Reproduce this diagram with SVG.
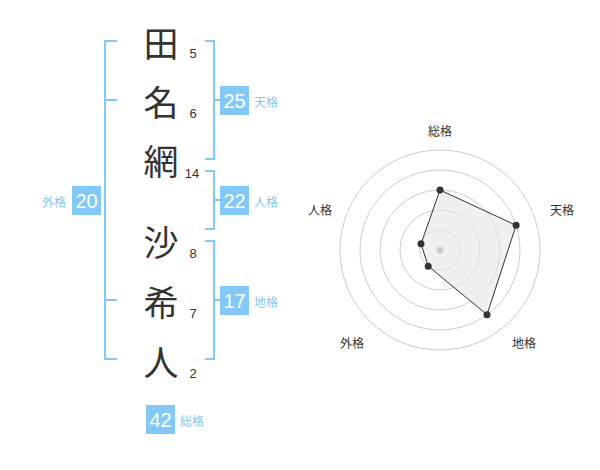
<svg xmlns="http://www.w3.org/2000/svg" width="600" height="470" viewBox="0 0 600 470">
<style>
.ch{font-family:"Noto Sans CJK JP","Noto Sans CJK SC",sans-serif;font-size:35px;fill:#333;text-anchor:middle;dominant-baseline:central}
.num{font-family:"Liberation Sans",Arial,sans-serif;font-size:13px;fill:#333;text-anchor:middle;dominant-baseline:central}
.br{fill:none;stroke:#82c9f8;stroke-width:2}
.box{fill:#82c9f8}
.bn{font-family:"Liberation Sans",Arial,sans-serif;font-size:20px;fill:#fff;text-anchor:middle;dominant-baseline:central}
.bl{font-family:"Noto Sans CJK JP",sans-serif;font-size:12px;fill:#82c9f8;dominant-baseline:central}
.ring{fill:none;stroke:#ccc;stroke-width:1}
.rl{font-family:"Noto Sans CJK JP",sans-serif;font-size:12px;fill:#333;text-anchor:middle;dominant-baseline:central}
.pt{fill:#333}
</style>
<rect width="600" height="470" fill="#fff"/>
<g id="name">
<text class="ch" x="161" y="41">田</text>
<text class="ch" x="161" y="100">名</text>
<text class="ch" x="161" y="159">網</text>
<text class="ch" x="161" y="240">沙</text>
<text class="ch" x="161" y="300">希</text>
<text class="ch" x="161" y="360">人</text>
<text class="num" x="193" y="53">5</text>
<text class="num" x="193" y="113">6</text>
<text class="num" x="192" y="173">14</text>
<text class="num" x="193" y="253">8</text>
<text class="num" x="193" y="313">7</text>
<text class="num" x="193" y="373">2</text>
</g>
<g id="connectors">
<path class="br" d="M117,41 H105 V359 H117 M105,100 H117 M105,300 H117"/>
<path class="br" d="M205,41 H214 V159 H205 M214,100 H220"/>
<path class="br" d="M205,171 H214 V229 H205 M214,200 H220"/>
<path class="br" d="M205,241 H214 V359 H205 M214,300 H220"/>
</g>
<g id="tenkaku">
<rect class="box" x="220" y="86" width="29" height="29"/>
<text class="bn" x="234.5" y="101">25</text>
<text class="bl" x="254" y="101">天格</text>
</g>
<g id="jinkaku">
<rect class="box" x="220" y="186" width="29" height="29"/>
<text class="bn" x="234.5" y="201">22</text>
<text class="bl" x="254" y="201">人格</text>
</g>
<g id="chikaku">
<rect class="box" x="220" y="286" width="29" height="29"/>
<text class="bn" x="234.5" y="301">17</text>
<text class="bl" x="254" y="301">地格</text>
</g>
<g id="gaikaku">
<rect class="box" x="72" y="186" width="29" height="29"/>
<text class="bn" x="86.5" y="201">20</text>
<text class="bl" x="66" y="201" text-anchor="end">外格</text>
</g>
<g id="soukaku">
<rect class="box" x="146" y="405" width="29" height="29"/>
<text class="bn" x="160.5" y="420">42</text>
<text class="bl" x="180" y="420">総格</text>
</g>
<g id="radar">
<circle class="ring" cx="440" cy="250" r="20"/>
<circle class="ring" cx="440" cy="250" r="40"/>
<circle class="ring" cx="440" cy="250" r="60"/>
<circle class="ring" cx="440" cy="250" r="80"/>
<circle class="ring" cx="440" cy="250" r="100"/>
<polygon points="440,190 516.1,225.3 487.0,314.7 428.2,266.2 421.0,243.8" fill="#e6e6e6" fill-opacity="0.6" stroke="#333" stroke-width="1"/>
<circle cx="440" cy="250" r="3.5" fill="#ccc"/>
<circle class="pt" cx="440" cy="190" r="3.5"/>
<circle class="pt" cx="516.1" cy="225.3" r="3.5"/>
<circle class="pt" cx="487.0" cy="314.7" r="3.5"/>
<circle class="pt" cx="428.2" cy="266.2" r="3.5"/>
<circle class="pt" cx="421.0" cy="243.8" r="3.5"/>
<text class="rl" x="440" y="130">総格</text>
<text class="rl" x="562" y="209">天格</text>
<text class="rl" x="524" y="342">地格</text>
<text class="rl" x="352" y="342">外格</text>
<text class="rl" x="320" y="209">人格</text>
</g>
</svg>
